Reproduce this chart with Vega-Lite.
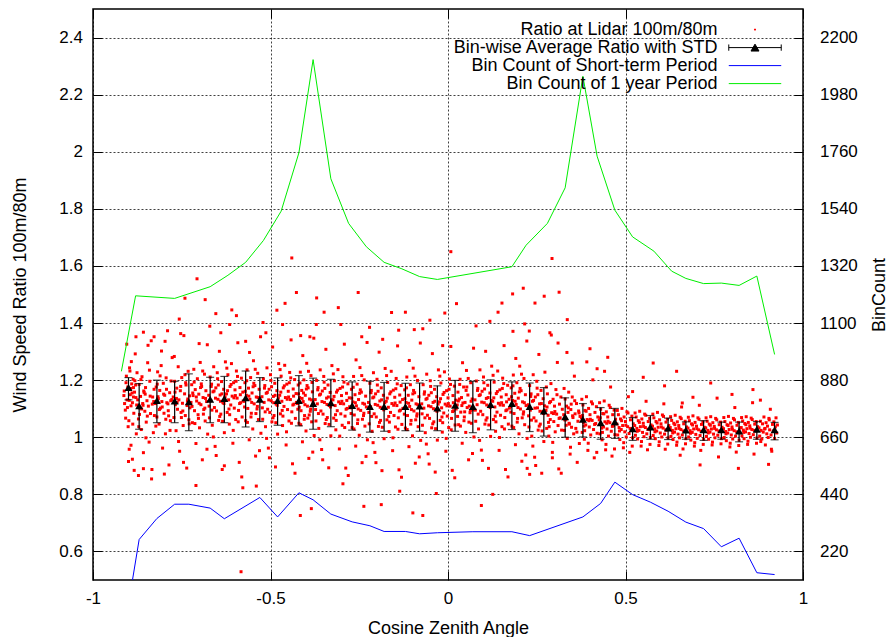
{
"$schema": "https://vega.github.io/schema/vega-lite/v6.json",
"width": 710,
"height": 571,
"autosize": "none",
"padding": {"left": 93, "top": 9, "right": 92, "bottom": 57},
"background": "white",
"datasets": {
"bins": [
{"x":-0.90,"mean":1.174,"lo":1.131,"hi":1.209},
{"x":-0.87,"mean":1.110,"lo":1.028,"hi":1.188},
{"x":-0.82,"mean":1.129,"lo":1.051,"hi":1.200},
{"x":-0.77,"mean":1.127,"lo":1.051,"hi":1.196},
{"x":-0.73,"mean":1.124,"lo":1.023,"hi":1.222},
{"x":-0.67,"mean":1.133,"lo":1.051,"hi":1.210},
{"x":-0.63,"mean":1.136,"lo":1.051,"hi":1.213},
{"x":-0.57,"mean":1.138,"lo":1.036,"hi":1.232},
{"x":-0.53,"mean":1.133,"lo":1.055,"hi":1.209},
{"x":-0.48,"mean":1.129,"lo":1.042,"hi":1.208},
{"x":-0.42,"mean":1.129,"lo":1.040,"hi":1.216},
{"x":-0.38,"mean":1.118,"lo":1.028,"hi":1.207},
{"x":-0.33,"mean":1.121,"lo":1.037,"hi":1.203},
{"x":-0.27,"mean":1.111,"lo":1.025,"hi":1.194},
{"x":-0.22,"mean":1.108,"lo":1.018,"hi":1.196},
{"x":-0.18,"mean":1.108,"lo":1.021,"hi":1.192},
{"x":-0.12,"mean":1.108,"lo":1.023,"hi":1.189},
{"x":-0.08,"mean":1.109,"lo":1.021,"hi":1.190},
{"x":-0.03,"mean":1.102,"lo":1.023,"hi":1.180},
{"x":0.02,"mean":1.112,"lo":1.021,"hi":1.199},
{"x":0.07,"mean":1.108,"lo":1.016,"hi":1.196},
{"x":0.12,"mean":1.115,"lo":1.026,"hi":1.201},
{"x":0.18,"mean":1.118,"lo":1.027,"hi":1.194},
{"x":0.23,"mean":1.108,"lo":1.020,"hi":1.190},
{"x":0.27,"mean":1.092,"lo":1.004,"hi":1.174},
{"x":0.33,"mean":1.072,"lo":1.000,"hi":1.138},
{"x":0.38,"mean":1.063,"lo":1.001,"hi":1.118},
{"x":0.43,"mean":1.051,"lo":0.993,"hi":1.104},
{"x":0.47,"mean":1.054,"lo":0.996,"hi":1.101},
{"x":0.52,"mean":1.030,"lo":0.989,"hi":1.069},
{"x":0.57,"mean":1.036,"lo":0.993,"hi":1.076},
{"x":0.62,"mean":1.032,"lo":0.992,"hi":1.067},
{"x":0.67,"mean":1.025,"lo":0.993,"hi":1.054},
{"x":0.72,"mean":1.026,"lo":0.989,"hi":1.058},
{"x":0.77,"mean":1.026,"lo":0.993,"hi":1.053},
{"x":0.82,"mean":1.022,"lo":0.984,"hi":1.053},
{"x":0.87,"mean":1.028,"lo":0.993,"hi":1.055},
{"x":0.92,"mean":1.026,"lo":0.991,"hi":1.052}
],
"blue": [
{"x":-0.90,"count":17},{"x":-0.87,"count":266},{"x":-0.82,"count":347},{"x":-0.77,"count":402},{"x":-0.73,"count":402},{"x":-0.67,"count":387},{"x":-0.63,"count":346},{"x":-0.53,"count":428},{"x":-0.48,"count":353},{"x":-0.42,"count":446},{"x":-0.38,"count":419},{"x":-0.33,"count":364},{"x":-0.27,"count":334},{"x":-0.22,"count":319},{"x":-0.18,"count":297},{"x":-0.12,"count":297},{"x":-0.08,"count":288},{"x":-0.03,"count":292},{"x":0.07,"count":296},{"x":0.18,"count":296},{"x":0.23,"count":281},{"x":0.38,"count":353},{"x":0.43,"count":405},{"x":0.47,"count":487},{"x":0.52,"count":439},{"x":0.57,"count":410},{"x":0.62,"count":375},{"x":0.67,"count":333},{"x":0.72,"count":308},{"x":0.77,"count":238},{"x":0.82,"count":271},{"x":0.87,"count":138},{"x":0.92,"count":131}
],
"green": [
{"x":-0.92,"count":914},{"x":-0.88,"count":1205},{"x":-0.77,"count":1195},{"x":-0.67,"count":1240},{"x":-0.62,"count":1284},{"x":-0.57,"count":1334},{"x":-0.52,"count":1418},{"x":-0.47,"count":1531},{"x":-0.42,"count":1756},{"x":-0.38,"count":2115},{"x":-0.33,"count":1656},{"x":-0.28,"count":1484},{"x":-0.23,"count":1394},{"x":-0.18,"count":1334},{"x":-0.13,"count":1309},{"x":-0.08,"count":1279},{"x":-0.03,"count":1268},{"x":0.18,"count":1317},{"x":0.22,"count":1400},{"x":0.28,"count":1484},{"x":0.33,"count":1621},{"x":0.38,"count":2051},{"x":0.42,"count":1743},{"x":0.47,"count":1535},{"x":0.52,"count":1432},{"x":0.58,"count":1377},{"x":0.63,"count":1300},{"x":0.67,"count":1272},{"x":0.72,"count":1252},{"x":0.77,"count":1254},{"x":0.82,"count":1245},{"x":0.87,"count":1281},{"x":0.92,"count":979}
],
"legend": [
{"series":"Ratio at Lidar 100m/80m"},{"series":"Bin-wise Average Ratio with STD"},{"series":"Bin Count of Short-term Period"},{"series":"Bin Count of 1 year Period"}
]
},
"config": {
"font": "Liberation Sans",
"view": {"stroke": "#000000", "strokeWidth": 1.5},
"axis": {"labelFont": "Liberation Sans", "labelFontSize": 17, "labelColor": "#000000", "titleFont": "Liberation Sans", "titleFontSize": 18, "titleFontWeight": "normal", "titleColor": "#000000", "domain": false, "tickColor": "#000000", "tickSize": -9, "tickWidth": 1, "gridColor": "#000000", "gridDash": [2, 2], "gridOpacity": 0.75, "gridWidth": 1, "labelOverlap": false}
},
"encoding": {
"x": {"field": "x", "type": "quantitative", "title": "Cosine Zenith Angle", "scale": {"domain": [-1, 1], "nice": false, "zero": false}, "axis": {"orient": "bottom", "values": [-1, -0.5, 0, 0.5, 1], "labelExpr": "datum.value + ''", "grid": true, "labelFlush": false, "labelPadding": 19, "titlePadding": 13}}
},
"layer": [
{"layer": [
{"data": {"values": "x,y\n-.912,1.162\n-.909,1.095\n-.906,1.214\n-.904,1.131\n-.902,1.176\n-.899,1.058\n-.897,1.243\n-.895,1.149\n-.893,.972\n-.891,1.187\n-.889,1.121\n-.887,1.203\n-.885,1.084\n-.883,1.158\n-.881,1.292\n-.879,1.139\n-.878,1.012\n-.876,1.226\n-.911,1.118\n-.905,1.326\n-.900,.915\n-.894,1.171\n-.888,1.046\n-.882,1.198\n-.877,1.113\n-.908,1.067\n-.896,1.232\n-.886,1.141\n-.880,1.183\n-.903,1.104\n-.892,1.265\n-.884,.884\n-.890,1.155\n-.898,1.129\n-.907,1.191\n-.901,1.037\n-.879,1.352\n-.886,1.174\n-.913,1.146\n-.893,1.110\n-.874,1.131\n-.872,1.064\n-.870,1.185\n-.868,1.102\n-.866,1.143\n-.864,1.027\n-.862,1.212\n-.860,1.118\n-.858,.946\n-.856,1.157\n-.854,1.091\n-.852,1.174\n-.850,1.053\n-.848,1.128\n-.846,1.261\n-.844,1.109\n-.842,.983\n-.840,1.196\n-.838,1.083\n-.836,1.338\n-.834,.887\n-.832,1.141\n-.830,1.016\n-.828,1.168\n-.827,1.076\n-.871,1.037\n-.865,1.202\n-.859,1.112\n-.853,1.151\n-.847,1.074\n-.841,1.235\n-.835,.854\n-.829,1.125\n-.863,1.099\n-.857,1.162\n-.851,.998\n-.845,1.322\n-.839,1.144\n-.833,1.116\n-.869,1.080\n-.824,1.118\n-.822,1.176\n-.820,1.071\n-.818,1.229\n-.816,1.135\n-.814,1.046\n-.812,1.164\n-.810,1.102\n-.808,1.251\n-.806,1.125\n-.804,.962\n-.802,1.189\n-.800,1.084\n-.798,1.147\n-.796,1.012\n-.794,1.208\n-.792,1.121\n-.790,1.373\n-.788,1.093\n-.786,.903\n-.784,1.156\n-.782,1.058\n-.780,1.197\n-.778,1.132\n-.777,1.279\n-.823,1.039\n-.817,1.142\n-.811,1.215\n-.805,1.106\n-.799,.871\n-.793,1.168\n-.787,1.075\n-.781,1.128\n-.819,1.186\n-.813,1.097\n-.807,1.302\n-.801,1.151\n-.795,1.063\n-.789,1.117\n-.783,1.024\n-.774,1.141\n-.772,1.069\n-.770,1.196\n-.768,1.114\n-.766,1.023\n-.764,1.172\n-.762,1.098\n-.760,1.247\n-.758,1.131\n-.756,.951\n-.754,1.163\n-.752,1.087\n-.750,1.209\n-.748,1.119\n-.746,1.041\n-.744,1.356\n-.742,1.152\n-.740,1.076\n-.738,1.183\n-.736,.892\n-.734,1.127\n-.732,1.231\n-.730,1.061\n-.728,1.145\n-.727,1.103\n-.771,1.283\n-.765,1.136\n-.759,.985\n-.753,1.178\n-.747,1.092\n-.741,1.219\n-.735,1.111\n-.729,1.047\n-.769,1.158\n-.763,1.122\n-.757,1.414\n-.751,1.069\n-.745,.912\n-.739,1.191\n-.733,1.134\n-.724,1.122\n-.722,1.184\n-.720,1.051\n-.718,1.146\n-.716,1.238\n-.714,1.093\n-.712,1.167\n-.710,.978\n-.708,1.127\n-.706,1.205\n-.704,1.079\n-.702,1.151\n-.700,1.033\n-.698,1.262\n-.696,1.114\n-.694,1.178\n-.692,.921\n-.690,1.139\n-.688,1.097\n-.686,1.221\n-.684,1.057\n-.682,1.163\n-.680,1.125\n-.678,1.324\n-.677,1.011\n-.721,1.108\n-.715,1.193\n-.709,1.141\n-.703,1.066\n-.697,1.174\n-.691,1.232\n-.685,1.102\n-.679,.958\n-.719,1.155\n-.713,1.048\n-.707,1.555\n-.701,1.119\n-.695,1.187\n-.689,1.081\n-.683,1.136\n-.674,1.147\n-.672,1.068\n-.670,1.211\n-.668,1.128\n-.666,1.186\n-.664,1.042\n-.662,1.159\n-.660,1.247\n-.658,1.104\n-.656,.968\n-.654,1.173\n-.652,1.092\n-.650,1.226\n-.648,1.133\n-.646,1.059\n-.644,1.301\n-.642,1.148\n-.640,1.081\n-.638,1.195\n-.636,.887\n-.634,1.121\n-.632,1.168\n-.630,1.016\n-.628,1.142\n-.627,1.264\n-.673,1.109\n-.667,1.178\n-.661,1.001\n-.655,1.137\n-.649,1.205\n-.643,1.073\n-.637,1.152\n-.631,1.118\n-.671,1.389\n-.665,1.095\n-.659,1.162\n-.653,.936\n-.647,1.183\n-.641,1.126\n-.635,1.056\n-.624,1.152\n-.622,1.087\n-.620,1.219\n-.618,1.131\n-.616,1.046\n-.614,1.178\n-.612,1.113\n-.610,1.258\n-.608,1.144\n-.606,.979\n-.604,1.191\n-.602,1.102\n-.600,1.166\n-.598,1.062\n-.596,1.232\n-.594,1.137\n-.592,1.331\n-.590,1.094\n-.588,.912\n-.586,1.174\n-.584,1.121\n-.582,1.207\n-.580,1.071\n-.578,1.158\n-.577,1.127\n-.623,1.242\n-.617,1.099\n-.611,1.185\n-.605,1.024\n-.599,1.146\n-.593,1.213\n-.587,1.118\n-.581,.861\n-.621,1.163\n-.615,1.079\n-.609,1.446\n-.603,1.138\n-.597,1.196\n-.591,1.054\n-.585,1.149\n-.574,1.126\n-.572,1.191\n-.570,1.058\n-.568,1.147\n-.566,1.236\n-.564,1.101\n-.562,1.172\n-.560,.991\n-.558,1.133\n-.556,1.209\n-.554,1.084\n-.552,1.155\n-.550,1.029\n-.548,1.268\n-.546,1.117\n-.544,1.181\n-.542,.934\n-.540,1.141\n-.538,1.099\n-.536,1.224\n-.534,1.062\n-.532,1.168\n-.530,1.129\n-.528,1.352\n-.527,1.014\n-.573,1.106\n-.567,1.198\n-.561,1.144\n-.555,1.071\n-.549,1.177\n-.543,1.238\n-.537,1.108\n-.531,.953\n-.571,1.161\n-.565,1.052\n-.559,1.297\n-.553,1.122\n-.547,1.189\n-.541,1.083\n-.535,1.139\n-.524,1.142\n-.522,1.063\n-.520,1.205\n-.518,1.122\n-.516,1.181\n-.514,1.037\n-.512,1.154\n-.510,1.243\n-.508,1.098\n-.506,.962\n-.504,1.168\n-.502,1.087\n-.500,1.219\n-.498,1.128\n-.496,1.054\n-.494,1.316\n-.492,1.143\n-.490,1.076\n-.488,1.189\n-.486,.896\n-.484,1.116\n-.482,1.163\n-.480,1.011\n-.478,1.137\n-.477,1.258\n-.523,1.103\n-.517,1.172\n-.511,.996\n-.505,1.131\n-.499,1.199\n-.493,1.068\n-.487,1.147\n-.481,1.112\n-.521,1.402\n-.515,1.089\n-.509,1.157\n-.503,.928\n-.497,1.177\n-.491,1.121\n-.485,1.051\n-.474,1.147\n-.472,1.082\n-.470,1.214\n-.468,1.126\n-.466,1.041\n-.464,1.173\n-.462,1.108\n-.460,1.252\n-.458,1.139\n-.456,.973\n-.454,1.186\n-.452,1.097\n-.450,1.161\n-.448,1.057\n-.446,1.227\n-.444,1.132\n-.442,1.341\n-.440,1.089\n-.438,.907\n-.436,1.169\n-.434,1.116\n-.432,1.202\n-.430,1.066\n-.428,1.153\n-.427,1.122\n-.473,1.237\n-.467,1.094\n-.461,1.18\n-.455,1.019\n-.449,1.141\n-.443,1.208\n-.437,1.113\n-.431,.874\n-.471,1.158\n-.465,1.074\n-.459,1.469\n-.453,1.133\n-.447,1.191\n-.441,1.049\n-.435,1.144\n-.424,1.118\n-.422,1.183\n-.420,1.049\n-.418,1.139\n-.416,1.228\n-.414,1.093\n-.412,1.164\n-.410,.984\n-.408,1.125\n-.406,1.201\n-.404,1.076\n-.402,1.147\n-.400,1.022\n-.398,1.259\n-.396,1.109\n-.394,1.173\n-.392,.926\n-.390,1.134\n-.388,1.091\n-.386,1.216\n-.384,1.054\n-.382,1.159\n-.380,1.121\n-.378,1.347\n-.377,1.006\n-.423,1.098\n-.417,1.19\n-.411,1.136\n-.405,1.063\n-.399,1.169\n-.393,1.231\n-.387,1.099\n-.381,.948\n-.421,1.152\n-.415,1.044\n-.409,1.286\n-.403,1.114\n-.397,1.181\n-.391,1.078\n-.385,1.131\n-.419,1.105\n-.407,1.155\n-.395,1.067\n-.383,1.192\n-.374,1.132\n-.372,1.057\n-.370,1.199\n-.368,1.117\n-.366,1.174\n-.364,1.031\n-.362,1.148\n-.360,1.236\n-.358,1.092\n-.356,.957\n-.354,1.162\n-.352,1.081\n-.350,1.213\n-.348,1.122\n-.346,1.048\n-.344,1.308\n-.342,1.137\n-.340,1.069\n-.338,1.183\n-.336,.893\n-.334,1.111\n-.332,1.157\n-.330,1.005\n-.328,1.131\n-.327,1.251\n-.373,1.097\n-.367,1.166\n-.361,.991\n-.355,1.125\n-.349,1.193\n-.343,1.062\n-.337,1.141\n-.331,1.106\n-.371,1.395\n-.365,1.083\n-.359,1.151\n-.353,.921\n-.347,1.171\n-.341,1.115\n-.335,1.045\n-.324,1.131\n-.322,1.067\n-.320,1.198\n-.318,1.111\n-.316,1.026\n-.314,1.158\n-.312,1.093\n-.310,1.237\n-.308,1.124\n-.306,.959\n-.304,1.171\n-.302,1.082\n-.300,1.146\n-.298,1.042\n-.296,1.212\n-.294,1.117\n-.292,1.326\n-.290,1.074\n-.288,.892\n-.286,1.154\n-.284,1.101\n-.282,1.187\n-.280,1.051\n-.278,1.138\n-.277,1.107\n-.323,1.222\n-.317,1.079\n-.311,1.165\n-.305,1.004\n-.299,1.126\n-.293,1.193\n-.287,1.098\n-.281,.866\n-.321,1.143\n-.315,1.059\n-.309,1.454\n-.303,1.118\n-.297,1.176\n-.291,1.034\n-.285,1.129\n-.274,1.103\n-.272,1.168\n-.270,1.034\n-.268,1.124\n-.266,1.213\n-.264,1.078\n-.262,1.149\n-.260,.969\n-.258,1.11\n-.256,1.186\n-.254,1.061\n-.252,1.132\n-.250,1.007\n-.248,1.244\n-.246,1.094\n-.244,1.158\n-.242,.911\n-.240,1.119\n-.238,1.076\n-.236,1.201\n-.234,1.039\n-.232,1.144\n-.230,1.106\n-.228,1.332\n-.227,.991\n-.273,1.083\n-.267,1.175\n-.261,1.121\n-.255,1.048\n-.249,1.154\n-.243,1.216\n-.237,1.084\n-.231,.933\n-.271,1.137\n-.265,1.029\n-.259,1.271\n-.253,1.099\n-.247,1.166\n-.241,1.063\n-.235,1.116\n-.224,1.122\n-.222,1.047\n-.220,1.189\n-.218,1.107\n-.216,1.164\n-.214,1.021\n-.212,1.138\n-.210,1.226\n-.208,1.082\n-.206,.947\n-.204,1.152\n-.202,1.071\n-.200,1.203\n-.198,1.112\n-.196,1.038\n-.194,1.298\n-.192,1.127\n-.190,1.059\n-.188,1.173\n-.186,.883\n-.184,1.101\n-.182,1.147\n-.180,.995\n-.178,1.121\n-.177,1.241\n-.223,1.087\n-.217,1.156\n-.211,.981\n-.205,1.115\n-.199,1.183\n-.193,1.052\n-.187,1.131\n-.181,1.096\n-.221,1.385\n-.215,1.073\n-.209,1.141\n-.203,.911\n-.197,1.161\n-.191,1.105\n-.185,1.035\n-.174,1.126\n-.172,1.061\n-.170,1.192\n-.168,1.105\n-.166,1.02\n-.164,1.152\n-.162,1.087\n-.160,1.231\n-.158,1.118\n-.156,.953\n-.154,1.165\n-.152,1.076\n-.150,1.14\n-.148,1.036\n-.146,1.206\n-.144,1.111\n-.142,1.32\n-.140,1.068\n-.138,.886\n-.136,1.148\n-.134,1.095\n-.132,1.181\n-.130,1.045\n-.128,1.132\n-.127,1.101\n-.173,1.216\n-.167,1.073\n-.161,1.159\n-.155,.998\n-.149,1.12\n-.143,1.187\n-.137,1.092\n-.131,.86\n-.171,1.137\n-.165,1.053\n-.159,1.437\n-.153,1.112\n-.147,1.17\n-.141,1.028\n-.135,1.123\n-.124,1.101\n-.122,1.166\n-.120,1.032\n-.118,1.122\n-.116,1.211\n-.114,1.076\n-.112,1.147\n-.110,.967\n-.108,1.108\n-.106,1.184\n-.104,1.059\n-.102,1.13\n-.100,1.005\n-.098,1.242\n-.096,1.092\n-.094,1.156\n-.092,.909\n-.090,1.117\n-.088,1.074\n-.086,1.199\n-.084,1.037\n-.082,1.142\n-.080,1.104\n-.078,1.33\n-.077,.989\n-.123,1.081\n-.117,1.173\n-.111,1.119\n-.105,1.046\n-.099,1.152\n-.093,1.214\n-.087,1.082\n-.081,.931\n-.121,1.135\n-.115,1.027\n-.109,1.269\n-.103,1.097\n-.097,1.164\n-.091,1.061\n-.085,1.114\n-.074,1.117\n-.072,1.042\n-.070,1.184\n-.068,1.102\n-.066,1.159\n-.064,1.016\n-.062,1.133\n-.060,1.221\n-.058,1.077\n-.056,.942\n-.054,1.147\n-.052,1.066\n-.050,1.198\n-.048,1.107\n-.046,1.033\n-.044,1.293\n-.042,1.122\n-.040,1.054\n-.038,1.168\n-.036,.878\n-.034,1.096\n-.032,1.142\n-.030,.99\n-.028,1.116\n-.027,1.236\n-.073,1.082\n-.067,1.151\n-.061,.976\n-.055,1.11\n-.049,1.178\n-.043,1.047\n-.037,1.126\n-.031,1.091\n-.071,1.38\n-.065,1.068\n-.059,1.136\n-.053,.906\n-.047,1.156\n-.041,1.1\n-.035,1.03\n-.024,1.124\n-.022,1.059\n-.020,1.19\n-.018,1.103\n-.016,1.018\n-.014,1.15\n-.012,1.085\n-.010,1.229\n-.008,1.116\n-.006,.951\n-.004,1.163\n-.002,1.074\n.000,1.138\n.002,1.034\n.004,1.204\n.006,1.109\n.008,1.318\n.010,1.066\n.012,.884\n.014,1.146\n.016,1.093\n.018,1.179\n.020,1.043\n.022,1.13\n.023,1.099\n-.023,1.214\n-.017,1.071\n-.011,1.157\n-.005,.996\n.001,1.118\n.007,1.185\n.013,1.09\n.019,.858\n-.021,1.135\n-.015,1.051\n-.009,1.435\n-.003,1.11\n.003,1.168\n.009,1.026\n.015,1.121\n.026,1.113\n.028,1.158\n.030,1.044\n.032,1.134\n.034,1.203\n.036,1.088\n.038,1.139\n.040,.979\n.042,1.12\n.044,1.176\n.046,1.071\n.048,1.122\n.050,1.017\n.052,1.234\n.054,1.104\n.056,1.148\n.058,.921\n.060,1.109\n.062,1.086\n.064,1.191\n.066,1.049\n.068,1.134\n.070,1.096\n.072,1.312\n.073,1.001\n.027,1.073\n.033,1.185\n.039,1.111\n.045,1.058\n.051,1.164\n.057,1.206\n.063,1.094\n.069,.943\n.029,1.127\n.035,1.039\n.041,1.261\n.047,1.089\n.053,1.176\n.059,1.053\n.065,1.126\n.076,1.131\n.078,1.056\n.080,1.197\n.082,1.114\n.084,1.171\n.086,1.029\n.088,1.146\n.090,1.236\n.092,1.091\n.094,.955\n.096,1.161\n.098,1.079\n.100,1.211\n.102,1.121\n.104,1.046\n.106,1.301\n.108,1.136\n.110,1.068\n.112,1.182\n.114,.891\n.116,1.109\n.118,1.155\n.120,1.003\n.122,1.129\n.123,1.249\n.077,1.095\n.083,1.164\n.089,.989\n.095,1.123\n.101,1.191\n.107,1.06\n.113,1.139\n.119,1.104\n.079,1.39\n.085,1.081\n.091,1.149\n.097,.919\n.103,1.169\n.109,1.113\n.115,1.043\n.126,1.126\n.128,1.062\n.130,1.193\n.132,1.106\n.134,1.021\n.136,1.153\n.138,1.088\n.140,1.232\n.142,1.119\n.144,.954\n.146,1.166\n.148,1.077\n.150,1.141\n.152,1.037\n.154,1.207\n.156,1.112\n.158,1.321\n.160,1.069\n.162,.887\n.164,1.149\n.166,1.096\n.168,1.182\n.170,1.046\n.172,1.133\n.173,1.102\n.127,1.217\n.133,1.074\n.139,1.16\n.145,.999\n.151,1.121\n.157,1.188\n.163,1.093\n.169,.861\n.129,1.138\n.135,1.054\n.141,1.438\n.147,1.113\n.153,1.171\n.159,1.029\n.165,1.124\n.176,1.108\n.178,1.173\n.180,1.039\n.182,1.129\n.184,1.218\n.186,1.083\n.188,1.154\n.190,.974\n.192,1.115\n.194,1.191\n.196,1.066\n.198,1.137\n.200,1.012\n.202,1.249\n.204,1.099\n.206,1.163\n.208,.916\n.210,1.124\n.212,1.081\n.214,1.206\n.216,1.044\n.218,1.149\n.220,1.111\n.222,1.337\n.223,.996\n.177,1.088\n.183,1.18\n.189,1.126\n.195,1.053\n.201,1.159\n.207,1.221\n.213,1.089\n.219,.938\n.179,1.142\n.185,1.034\n.191,1.276\n.197,1.104\n.203,1.171\n.209,1.068\n.215,1.121\n.226,1.114\n.228,1.036\n.230,1.181\n.232,1.095\n.234,1.152\n.236,1.004\n.238,1.126\n.240,1.219\n.242,1.068\n.244,.93\n.246,1.141\n.248,1.057\n.250,1.196\n.252,1.103\n.254,1.025\n.256,1.29\n.258,1.117\n.260,1.046\n.262,1.164\n.264,.874\n.266,1.089\n.268,1.135\n.270,.985\n.272,1.11\n.273,1.228\n.227,1.075\n.233,1.143\n.239,.969\n.245,1.102\n.251,1.172\n.257,1.039\n.263,1.118\n.269,1.083\n.229,1.372\n.235,1.06\n.241,1.129\n.247,.901\n.253,1.149\n.259,1.091\n.265,1.022\n.276,1.094\n.278,1.031\n.280,1.152\n.282,1.077\n.284,1.004\n.286,1.121\n.288,1.062\n.290,1.188\n.292,1.086\n.294,.947\n.296,1.133\n.298,1.055\n.300,1.109\n.302,1.019\n.304,1.167\n.306,1.081\n.308,1.262\n.310,1.041\n.312,.889\n.314,1.116\n.316,1.068\n.318,1.141\n.320,1.025\n.322,1.098\n.277,1.176\n.283,1.052\n.289,1.125\n.295,.982\n.301,1.09\n.307,1.149\n.313,1.066\n.319,.874\n.279,1.106\n.285,1.037\n.291,1.358\n.297,1.083\n.326,1.079\n.328,1.024\n.330,1.134\n.332,1.061\n.334,1.109\n.336,.996\n.338,1.087\n.340,1.158\n.342,1.046\n.344,.941\n.346,1.097\n.348,1.035\n.350,1.141\n.352,1.069\n.354,1.012\n.356,1.214\n.358,1.082\n.360,1.031\n.362,1.118\n.364,.912\n.366,1.056\n.368,1.092\n.370,.978\n.372,1.073\n.327,1.171\n.333,1.042\n.339,1.103\n.345,.965\n.351,1.075\n.357,1.128\n.363,1.018\n.369,1.085\n.329,1.061\n.335,1.297\n.341,1.049\n.347,1.116\n.376,1.068\n.378,1.017\n.380,1.113\n.382,1.052\n.384,.993\n.386,1.094\n.388,1.043\n.390,1.142\n.392,1.062\n.394,.954\n.396,1.101\n.398,1.036\n.400,1.079\n.402,1.008\n.404,1.124\n.406,1.059\n.408,1.201\n.410,1.027\n.412,.928\n.414,1.087\n.416,1.048\n.418,1.107\n.420,1.014\n.422,1.071\n.377,1.133\n.383,1.039\n.389,1.091\n.395,.979\n.401,1.063\n.407,1.117\n.413,1.045\n.419,.947\n.379,1.076\n.385,1.023\n.391,1.264\n.397,1.058\n.426,1.061\n.428,1.012\n.430,1.098\n.432,1.043\n.434,.991\n.436,1.083\n.438,1.036\n.440,1.127\n.442,1.054\n.444,.956\n.446,1.089\n.448,1.029\n.450,1.071\n.452,1.004\n.454,1.112\n.456,1.051\n.458,1.176\n.460,1.021\n.462,.934\n.464,1.079\n.466,1.041\n.468,1.095\n.470,1.009\n.472,1.063\n.427,1.121\n.433,1.032\n.439,1.082\n.445,.975\n.451,1.056\n.457,1.104\n.463,1.038\n.469,.959\n.429,1.068\n.435,1.017\n.441,1.231\n.447,1.049\n.476,1.046\n.478,1.008\n.480,1.079\n.482,1.034\n.484,.992\n.486,1.064\n.488,1.027\n.490,1.101\n.492,1.041\n.494,.963\n.496,1.071\n.498,1.019\n.500,1.055\n.502,1.001\n.504,1.089\n.506,1.037\n.508,1.142\n.510,1.013\n.512,.947\n.514,1.061\n.516,1.029\n.518,1.074\n.520,.998\n.522,1.047\n.477,1.094\n.483,1.022\n.489,1.058\n.495,.981\n.501,1.042\n.507,1.085\n.513,1.031\n.519,.969\n.526,1.041\n.528,1.007\n.530,1.071\n.532,1.031\n.534,.994\n.536,1.058\n.538,1.024\n.540,1.091\n.542,1.037\n.544,.969\n.546,1.064\n.548,1.017\n.550,1.049\n.552,1.002\n.554,1.081\n.556,1.034\n.558,1.126\n.560,1.012\n.562,.956\n.564,1.055\n.566,1.027\n.568,1.066\n.570,.999\n.572,1.043\n.527,1.085\n.533,1.021\n.539,1.052\n.545,.985\n.551,1.038\n.557,1.077\n.563,1.028\n.569,.975\n.576,1.039\n.578,1.006\n.580,1.068\n.582,1.029\n.584,.995\n.586,1.055\n.588,1.022\n.590,1.087\n.592,1.035\n.594,.971\n.596,1.061\n.598,1.015\n.600,1.047\n.602,1.001\n.604,1.078\n.606,1.032\n.608,1.117\n.610,1.011\n.612,.958\n.614,1.053\n.616,1.025\n.618,1.063\n.620,.998\n.622,1.041\n.577,1.081\n.583,1.019\n.589,1.05\n.595,.984\n.601,1.036\n.607,1.073\n.613,1.026\n.619,.976\n.626,1.034\n.628,1.003\n.630,1.059\n.632,1.024\n.634,.992\n.636,1.049\n.638,1.018\n.640,1.077\n.642,1.03\n.644,.972\n.646,1.054\n.648,1.011\n.650,1.041\n.652,.998\n.654,1.07\n.656,1.027\n.658,1.106\n.660,1.008\n.662,.959\n.664,1.047\n.666,1.021\n.668,1.056\n.670,.995\n.672,1.036\n.627,1.072\n.633,1.015\n.639,1.044\n.645,.983\n.651,1.031\n.657,1.065\n.663,1.022\n.669,.977\n.676,1.032\n.678,1.001\n.680,1.058\n.682,1.023\n.684,.99\n.686,1.047\n.688,1.017\n.690,1.075\n.692,1.029\n.694,.969\n.696,1.052\n.698,1.01\n.700,1.039\n.702,.996\n.704,1.068\n.706,1.026\n.708,1.112\n.710,1.006\n.712,.954\n.714,1.045\n.716,1.02\n.718,1.054\n.720,.993\n.722,1.035\n.677,1.07\n.683,1.014\n.689,1.043\n.695,.981\n.701,1.03\n.707,1.063\n.713,1.021\n.719,.975\n.726,1.033\n.728,1.003\n.730,1.056\n.732,1.024\n.734,.993\n.736,1.046\n.738,1.018\n.740,1.072\n.742,1.029\n.744,.973\n.746,1.051\n.748,1.011\n.750,1.038\n.752,.998\n.754,1.066\n.756,1.026\n.758,1.137\n.760,1.007\n.762,.931\n.764,1.044\n.766,1.02\n.768,1.053\n.770,.995\n.772,1.035\n.727,1.068\n.733,1.015\n.739,1.042\n.745,.983\n.751,1.031\n.757,1.061\n.763,1.022\n.769,.977\n.776,1.03\n.778,.999\n.780,1.055\n.782,1.02\n.784,.988\n.786,1.044\n.788,1.015\n.790,1.073\n.792,1.027\n.794,.966\n.796,1.05\n.798,1.008\n.800,1.036\n.802,.994\n.804,1.066\n.806,1.023\n.808,1.104\n.810,1.004\n.812,.948\n.814,1.042\n.816,1.017\n.818,1.052\n.820,.99\n.822,1.032\n.777,1.069\n.783,1.012\n.789,1.041\n.795,.979\n.801,1.028\n.807,1.061\n.813,1.019\n.819,.971\n.826,1.034\n.828,1.005\n.830,1.057\n.832,1.025\n.834,.995\n.836,1.048\n.838,1.019\n.840,1.072\n.842,1.03\n.844,.975\n.846,1.052\n.848,1.013\n.850,1.04\n.852,1.0\n.854,1.067\n.856,1.027\n.858,1.121\n.860,1.009\n.862,.941\n.864,1.046\n.866,1.022\n.868,1.055\n.870,.997\n.872,1.037\n.827,1.069\n.833,1.017\n.839,1.044\n.845,.986\n.851,1.032\n.857,1.062\n.863,1.024\n.869,.979\n.876,1.033\n.878,1.004\n.880,1.056\n.882,1.024\n.884,.994\n.886,1.047\n.888,1.018\n.890,1.071\n.892,1.029\n.894,.973\n.896,1.051\n.898,1.012\n.900,1.039\n.902,.999\n.904,1.066\n.906,1.026\n.908,1.098\n.910,1.008\n.912,.951\n.914,1.045\n.916,1.021\n.918,1.054\n.920,.996\n.922,1.036\n.924,1.068\n.926,1.015\n.928,1.043\n.881,.985\n.893,1.031\n.905,1.061\n.917,1.022\n.911,.958\n-.583,.529\n.094,.761\n.126,.8\n-.44,1.628\n-.741,1.487\n-.684,1.482\n-.654,1.433\n-.596,1.426\n-.427,1.507\n-.37,1.488\n-.349,1.438\n-.253,1.507\n-.482,1.445\n-.12,1.438\n.008,1.65\n.293,1.626\n.212,1.522\n.182,1.502\n.313,1.508\n.271,1.494\n.245,1.47\n.152,1.47\n.024,1.468\n.336,1.412\n.216,1.397\n.118,1.406\n.183,1.371\n.287,1.366\n.644,1.231\n.578,1.26\n.859,1.167\n-.858,1.368\n-.828,1.352\n-.797,1.336\n-.753,1.363\n-.701,1.328\n-.615,1.395\n-.64,1.366\n-.57,1.336\n-.513,1.366\n-.466,1.395\n-.415,1.356\n-.389,1.352\n-.302,1.395\n-.243,1.352\n-.184,1.343\n-.139,1.375\n-.095,1.377\n-.051,1.41\n-.015,1.321\n-.872,.866\n-.858,.89\n-.71,.831\n-.63,.9\n-.54,.829\n-.578,.823\n-.416,.726\n-.385,.75\n-.296,.837\n-.237,.758\n-.188,.764\n-.136,.811\n-.099,.735\n-.071,.726\n-.033,.803\n-.898,.958\n-.889,.923\n.71,.903\n.818,.891\n.903,.905\n.654,.937\n.23,.87\n.223,.891\n.294,.928\n.52,1.16\n.61,1.18\n.69,1.14\n.74,1.19\n.8,1.15\n.88,1.13\n.55,1.21\n.66,1.12\n.35,1.26\n.4,1.31\n.45,1.28\n.31,1.33\n.42,1.24", "format": {"type": "csv", "parse": {"x": "number", "y": "number"}}},
 "mark": {"type": "square", "size": 9, "opacity": 1, "clip": true, "color": "#ff0000"},
 "encoding": {
  "y": {"field": "y", "type": "quantitative", "title": "Wind Speed Ratio 100m/80m", "scale": {"domain": [0.5, 2.5], "nice": false, "zero": false}, "axis": {"values": [0.6, 0.8, 1, 1.2, 1.4, 1.6, 1.8, 2, 2.2, 2.4], "labelExpr": "datum.value + ''", "grid": true, "labelPadding": 19.5, "titlePadding": 29}}
 }},
{"data": {"name": "bins"}, "mark": {"type": "rule", "strokeWidth": 1.2, "color": "#000000"},
 "encoding": {"y": {"field": "lo", "type": "quantitative", "title": "Wind Speed Ratio 100m/80m", "scale": {"domain": [0.5, 2.5], "nice": false, "zero": false}}, "y2": {"field": "hi"}}},
{"data": {"name": "bins"}, "mark": {"type": "tick", "orient": "horizontal", "size": 8, "thickness": 1.2, "color": "#000000"},
 "encoding": {"y": {"field": "lo", "type": "quantitative", "title": "Wind Speed Ratio 100m/80m", "scale": {"domain": [0.5, 2.5], "nice": false, "zero": false}}}},
{"data": {"name": "bins"}, "mark": {"type": "tick", "orient": "horizontal", "size": 8, "thickness": 1.2, "color": "#000000"},
 "encoding": {"y": {"field": "hi", "type": "quantitative", "title": "Wind Speed Ratio 100m/80m", "scale": {"domain": [0.5, 2.5], "nice": false, "zero": false}}}},
{"data": {"name": "bins"}, "mark": {"type": "point", "shape": "triangle-up", "filled": true, "size": 64, "opacity": 1, "color": "#000000"},
 "encoding": {"y": {"field": "mean", "type": "quantitative", "title": "Wind Speed Ratio 100m/80m", "scale": {"domain": [0.5, 2.5], "nice": false, "zero": false}}}}
]},
{"encoding": {"x": {"field": "x", "type": "quantitative", "title": null, "scale": {"domain": [-1, 1], "nice": false, "zero": false}, "axis": {"orient": "top", "values": [-1, -0.5, 0, 0.5, 1], "labels": false, "grid": false, "title": null}}},
 "layer": [
{"data": {"name": "blue"}, "mark": {"type": "line", "strokeWidth": 1, "clip": true, "color": "#0000ff"},
 "encoding": {"y": {"field": "count", "type": "quantitative", "title": "BinCount", "scale": {"domain": [110, 2310], "nice": false, "zero": false}, "axis": {"orient": "right", "values": [220, 440, 660, 880, 1100, 1320, 1540, 1760, 1980, 2200], "format": "d", "grid": false, "labelPadding": 25.5, "titlePadding": 13, "titleAngle": 270, "titleBaseline": "top"}}}},
{"data": {"name": "green"}, "mark": {"type": "line", "strokeWidth": 1, "clip": true, "color": "#00ee00"},
 "encoding": {"y": {"field": "count", "type": "quantitative", "title": "BinCount", "scale": {"domain": [110, 2310], "nice": false, "zero": false}}}},
{"data": {"name": "legend"}, "mark": {"type": "point", "filled": true, "opacity": 0},
 "encoding": {
  "fill": {"field": "series", "type": "nominal", "scale": {"domain": ["Ratio at Lidar 100m/80m", "Bin-wise Average Ratio with STD", "Bin Count of Short-term Period", "Bin Count of 1 year Period"], "range": ["#ff0000", "#000000", "#0000ff", "#00ee00"]},
   "legend": {"orient": "none", "legendX": 653, "legendY": 11.6, "title": null, "labelFont": "Liberation Sans", "labelFontSize": 18, "labelColor": "#000000", "labelLimit": 500, "labelAlign": "right", "labelOffset": -46.5, "symbolSize": 110, "symbolStrokeWidth": 1, "symbolOpacity": 1, "rowPadding": -3, "padding": 0}},
  "stroke": {"field": "series", "type": "nominal", "scale": {"domain": ["Ratio at Lidar 100m/80m", "Bin-wise Average Ratio with STD", "Bin Count of Short-term Period", "Bin Count of 1 year Period"], "range": ["#ff0000", "#000000", "#0000ff", "#00ee00"]},
   "legend": {"orient": "none", "legendX": 653, "legendY": 11.6, "title": null, "labelFont": "Liberation Sans", "labelFontSize": 18, "labelColor": "#000000", "labelLimit": 500, "labelAlign": "right", "labelOffset": -46.5, "symbolSize": 110, "symbolStrokeWidth": 1, "symbolOpacity": 1, "rowPadding": -3, "padding": 0}},
  "shape": {"field": "series", "type": "nominal", "scale": {"domain": ["Ratio at Lidar 100m/80m", "Bin-wise Average Ratio with STD", "Bin Count of Short-term Period", "Bin Count of 1 year Period"], "range": ["M-0.1,-0.1H0.1V0.1H-0.1Z", "M-5,0H5M-5,-0.6V0.6M5,-0.6V0.6M0,-0.66L0.76,0.66L-0.76,0.66Z", "M-5,0H5", "M-5,0H5"]},
   "legend": {"orient": "none", "legendX": 653, "legendY": 11.6, "title": null, "labelFont": "Liberation Sans", "labelFontSize": 18, "labelColor": "#000000", "labelLimit": 500, "labelAlign": "right", "labelOffset": -46.5, "symbolSize": 110, "symbolStrokeWidth": 1, "symbolOpacity": 1, "rowPadding": -3, "padding": 0}}
 }}
]}
],
"resolve": {"scale": {"y": "independent"}, "axis": {"x": "independent"}}
}
